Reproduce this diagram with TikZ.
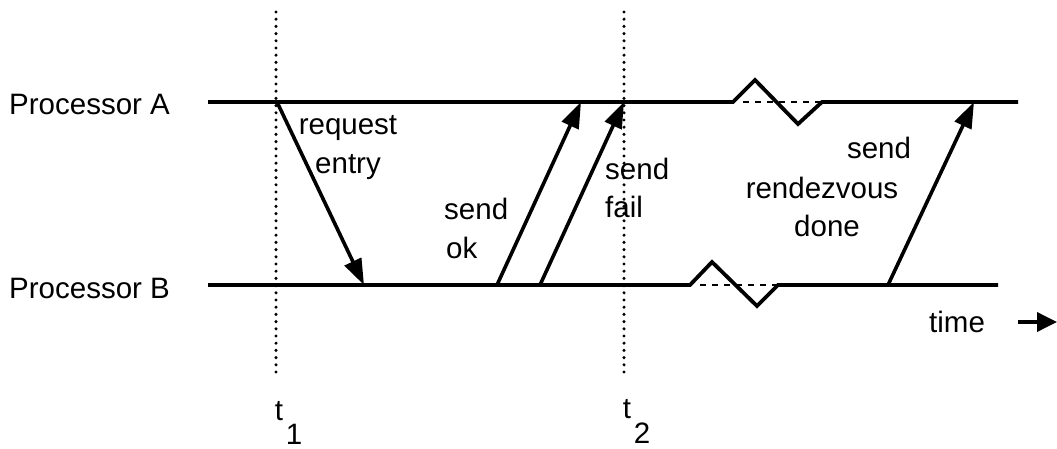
\documentclass[tikz,border=0pt]{standalone}
\usepackage{fontspec}
\setmainfont{Liberation Sans}
\usetikzlibrary{arrows.meta}
\begin{document}
\begin{tikzpicture}[x=1pt,y=-1pt,
  proc/.style={line width=3.8pt,line join=miter},
  msg/.style={line width=3.6pt,-{Triangle[length=26pt,width=18pt]}},
  marker/.style={line width=3.4pt,line cap=round,dash pattern=on 0pt off 7.2pt},
  gap/.style={line width=2.2pt,dash pattern=on 6pt off 6pt},
  lbl/.style={font=\fontsize{29.5}{29.5}\selectfont,inner sep=0pt},
  lbll/.style={lbl,anchor=west}]
\useasboundingbox (0,0) rectangle (1057,449);

% time lines of the two processors, each with a break
\coordinate (A0) at (208,102);
\coordinate (A1) at (733,102);
\coordinate (A2) at (822,102);
\coordinate (A3) at (1018,102);
\coordinate (B0) at (208,285);
\coordinate (B1) at (690,285);
\coordinate (B2) at (778,285);
\coordinate (B3) at (998,285);

\draw[proc] (A0) -- (A1) -- (755,80) -- (798,124) -- (A2) -- (A3);
\draw[gap] (A1) ++(10,0) -- (A2);
\draw[proc] (B0) -- (B1) -- (712,262) -- (757,306) -- (B2) -- (B3);
\draw[gap] (B1) ++(10,0) -- (B2);

% instants t1 and t2
\coordinate (T1top) at (276,12);
\coordinate (T1bot) at (276,374);
\coordinate (T2top) at (624,12);
\coordinate (T2bot) at (624,374);
\draw[marker] (T1top) -- (T1bot);
\draw[marker] (T2top) -- (T2bot);

% messages
\coordinate (m1s) at (277,102);
\coordinate (m1e) at (364,285);
\coordinate (m2s) at (497,285);
\coordinate (m2e) at (581,102);
\coordinate (m3s) at (540,285);
\coordinate (m3e) at (624,102);
\coordinate (m4s) at (888,285);
\coordinate (m4e) at (974,102);
\draw[msg] (m1s) -- (m1e);
\draw[msg] (m2s) -- (m2e);
\draw[msg] (m3s) -- (m3e);
\draw[msg] (m4s) -- (m4e);

% labels
\node[lbll] (pa) at (9,104) {Processor A};
\node[lbll] (pb) at (9,288) {Processor B};
\node[lbl] (req) at (348,128) {request};
\node[lbl] (ent) at (348,167) {entry};
\node[lbll] (s1) at (444,209) {send};
\node[lbll] (ok) at (446,248) {ok};
\node[lbll] (s2) at (605,169) {send};
\node[lbll] (fl) at (605,207) {fail};
\node[lbl] (s3) at (879,148) {send};
\node[lbl] (rv) at (822,188) {rendezvous};
\node[lbl] (dn) at (827,226) {done};
\node[lbll] (tm) at (929,322) {time};
\coordinate (tarr0) at (1018,322);
\coordinate (tarr1) at (1057,322);
\draw[line width=3.6pt,-{Triangle[length=20pt,width=19pt]}] (tarr0) -- (tarr1);

\node[lbl] (t1) at (279,411) {t};
\node[lbl] (i1) at (294,434) {1};
\node[lbl] (t2) at (627,409) {t};
\node[lbl] (i2) at (642,433) {2};
\end{tikzpicture}
\end{document}
